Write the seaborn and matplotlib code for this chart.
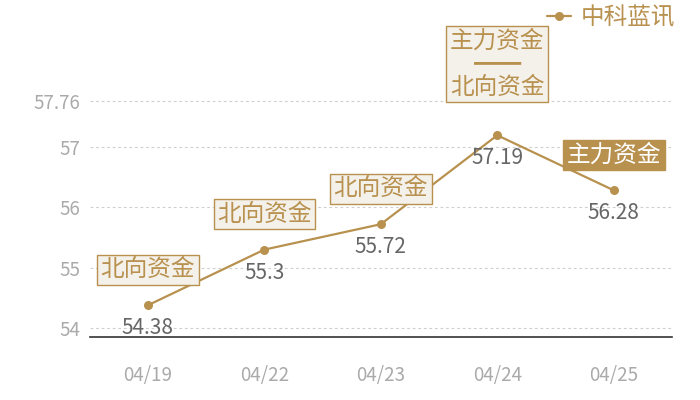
import numpy as np
import pandas as pd
import seaborn as sns
import matplotlib.pyplot as plt

# data
dates = ["04/19", "04/22", "04/23", "04/24", "04/25"]
prices = [54.38, 55.3, 55.72, 57.19, 56.28]
tags = ["北向资金", "北向资金", "北向资金", "主力资金\n━━\n北向资金", "主力资金"]
tag_filled = [False, False, False, False, True]
yticks = [54, 55, 56, 57, 57.76]
series_name = "中科蓝讯"

gold = "#B8914F"
pale = "#F4F0EA"

sns.set_theme(style="white")
plt.rcParams['font.family'] = ['Noto Sans CJK SC', 'DejaVu Sans']

df = pd.DataFrame({"date": dates, "price": prices})

fig = plt.figure(figsize=(7, 4), dpi=100)
ax = fig.add_axes([0.128, 0.1575, 0.832, 0.8175])

sns.lineplot(data=df, x="date", y="price", ax=ax, color=gold, linewidth=1.6,
             marker="o", markersize=6.5, markeredgewidth=0, label=series_name,
             sort=False, zorder=3)

ax.set_xlim(-0.5, len(dates) - 0.5)
ax.set_ylim(53.856, 59.26)
ax.set_yticks(yticks)
ax.set_yticklabels(["54", "55", "56", "57", "57.76"])
ax.set_xlabel("")
ax.set_ylabel("")

for y in yticks:
    ax.axhline(y, color="#cfcfcf", linewidth=0.8, linestyle=(0, (2.5, 2.5)), zorder=1)

for s in ["top", "right", "left"]:
    ax.spines[s].set_visible(False)
ax.spines["bottom"].set_color("#333333")
ax.spines["bottom"].set_linewidth(1.2)

ax.tick_params(axis="y", length=0, pad=6.5, labelsize=13.5, labelcolor="#aaaaaa")
ax.tick_params(axis="x", length=0, pad=20, labelsize=13.5, labelcolor="#aaaaaa")

# value labels under the points
for i, v in enumerate(prices):
    ax.annotate(f"{v:g}", (i, v), xytext=(0, -16.5), textcoords="offset points",
                ha="center", va="center", fontsize=15, color="#666666", zorder=5)

# tag boxes above the points
for i, (v, t, filled) in enumerate(zip(prices, tags, tag_filled)):
    off = 51 if "\n" in t else 25.5
    if filled:
        box = dict(boxstyle="square,pad=0.15", facecolor=gold, edgecolor=gold, linewidth=1)
        tc = "white"
    else:
        box = dict(boxstyle="square,pad=0.15", facecolor=pale, edgecolor=gold, linewidth=1)
        tc = gold
    ax.annotate(t, (i, v), xytext=(0, off), textcoords="offset points",
                ha="center", va="center", fontsize=17, color=tc, bbox=box,
                linespacing=1.0, zorder=6, annotation_clip=False)

leg = ax.legend(loc="center right", bbox_to_anchor=(675 / 700, 1 - 18 / 400),
                bbox_transform=fig.transFigure, frameon=False, fontsize=17,
                handlelength=1.0, handletextpad=0.4, borderpad=0, borderaxespad=0)
for txt in leg.get_texts():
    txt.set_color(gold)

fig.savefig("out.png", dpi=100)
